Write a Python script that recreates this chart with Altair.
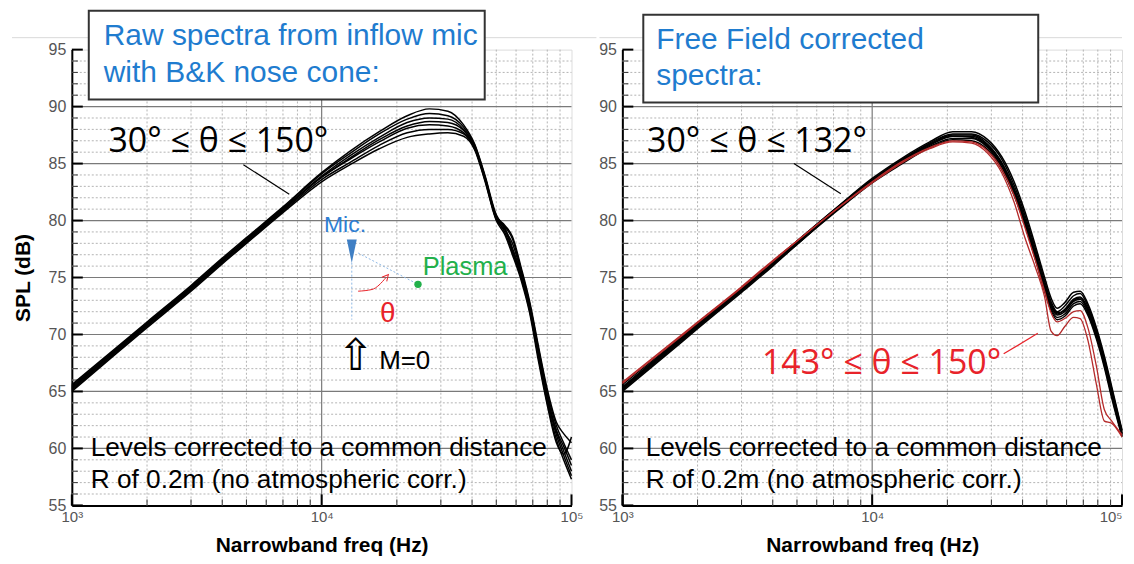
import altair as alt
import pandas as pd

# ---------------- data ----------------
FREQ_LEFT = [1000, 1500, 2000, 3000, 4000, 5000, 7000, 10000, 13000, 17000, 22000, 27000,
             32000, 37000, 41000, 45000, 50000, 54000, 58000, 63000, 68000, 74000, 80000,
             87000, 93000, 100000]
LEFT_L1 = [65.6, 68.8, 71.1, 74.3, 76.7, 78.5, 81.2, 84.2, 86.1, 87.8, 89.2, 89.8, 89.6, 88.4, 86.7, 84.0, 80.5, 79.4, 77.6, 75.3, 72.6, 68.4, 64.6, 61.5, 59.8, 58.0]
LEFT_L2 = [65.5, 68.7, 71.0, 74.2, 76.6, 78.4, 81.1, 84.1, 85.9, 87.6, 88.9, 89.4, 89.2, 88.2, 86.6, 83.9, 80.4, 79.6, 78.6, 75.8, 72.9, 68.8, 65.2, 62.3, 61.3, 60.5]
LEFT_L3 = [65.3, 68.6, 70.9, 74.1, 76.5, 78.3, 81.0, 83.9, 85.7, 87.3, 88.6, 89.0, 88.9, 88.0, 86.5, 83.8, 80.3, 79.3, 77.4, 75.1, 72.4, 68.1, 64.3, 61.2, 59.4, 57.6]
LEFT_L4 = [65.2, 68.5, 70.8, 74.0, 76.4, 78.2, 80.9, 83.8, 85.5, 87.1, 88.3, 88.7, 88.6, 87.9, 86.4, 83.8, 80.2, 79.5, 78.4, 75.6, 72.7, 68.6, 64.9, 62.0, 60.5, 59.0]
LEFT_L5 = [65.4, 68.6, 70.9, 74.1, 76.5, 78.3, 81.0, 83.8, 85.4, 86.9, 88.1, 88.4, 88.3, 87.7, 86.3, 83.7, 80.2, 79.0, 77.2, 74.9, 72.1, 67.8, 64.0, 60.8, 59.0, 57.3]
LEFT_L6 = [65.1, 68.4, 70.7, 73.9, 76.3, 78.1, 80.8, 83.6, 85.1, 86.6, 87.7, 88.0, 88.0, 87.6, 86.3, 83.6, 80.1, 79.2, 78.0, 75.4, 72.5, 68.3, 64.5, 61.6, 60.2, 58.5]
LEFT_L7 = [65.0, 68.3, 70.6, 73.8, 76.2, 78.0, 80.7, 83.4, 84.9, 86.3, 87.3, 87.6, 87.7, 87.4, 86.2, 83.5, 80.0, 78.8, 77.0, 74.7, 71.9, 67.5, 63.8, 60.5, 59.5, 61.0]
LEFT_BLACK = [LEFT_L1, LEFT_L2, LEFT_L3, LEFT_L4, LEFT_L5, LEFT_L6, LEFT_L7]

FREQ_RIGHT = [1000, 1500, 2000, 3000, 4000, 5000, 7000, 10000, 13000, 17000, 21000, 25000,
              29000, 33000, 37000, 41000, 45000, 49000, 52000, 55000, 59000, 64000, 68000,
              73000, 79000, 85000, 91000, 100000]
RIGHT_B1 = [65.6, 68.7, 71.0, 74.1, 76.4, 78.2, 80.9, 83.7, 85.4, 86.9, 87.8, 87.8, 87.1, 85.6, 83.4, 80.7, 77.8, 75.0, 73.2, 72.3, 72.8, 73.7, 73.8, 72.7, 70.6, 68.1, 65.4, 61.6]
RIGHT_B2 = [65.4, 68.6, 70.9, 74.0, 76.4, 78.2, 80.9, 83.6, 85.3, 86.8, 87.6, 87.6, 86.9, 85.4, 83.1, 80.4, 77.5, 74.7, 72.9, 72.0, 72.5, 73.4, 73.6, 72.5, 70.4, 67.9, 65.2, 61.5]
RIGHT_B3 = [65.3, 68.5, 70.8, 74.0, 76.3, 78.1, 80.8, 83.5, 85.2, 86.7, 87.5, 87.5, 86.7, 85.1, 82.8, 80.1, 77.2, 74.4, 72.6, 71.8, 72.2, 73.1, 73.3, 72.3, 70.2, 67.7, 65.0, 61.3]
RIGHT_B4 = [65.2, 68.4, 70.7, 73.9, 76.2, 78.0, 80.7, 83.4, 85.1, 86.6, 87.4, 87.3, 86.5, 84.9, 82.6, 79.9, 77.0, 74.2, 72.5, 71.7, 72.0, 72.9, 73.1, 72.1, 70.0, 67.5, 64.8, 61.2]
RIGHT_B5 = [65.1, 68.3, 70.6, 73.8, 76.1, 77.9, 80.7, 83.4, 85.0, 86.5, 87.2, 87.2, 86.4, 84.7, 82.4, 79.7, 76.8, 74.0, 72.3, 71.5, 71.8, 72.7, 72.9, 71.9, 69.8, 67.3, 64.6, 61.1]
RIGHT_B6 = [65.0, 68.2, 70.5, 73.7, 76.0, 77.9, 80.6, 83.3, 84.9, 86.4, 87.1, 87.0, 86.2, 84.5, 82.2, 79.5, 76.6, 73.8, 72.1, 71.3, 71.6, 72.5, 72.7, 71.7, 69.6, 67.1, 64.4, 61.0]
RIGHT_B7 = [65.3, 68.5, 70.8, 74.0, 76.3, 78.1, 80.8, 83.5, 85.2, 86.7, 87.4, 87.4, 86.6, 85.0, 82.7, 80.0, 77.1, 74.3, 72.7, 71.9, 72.1, 73.0, 73.2, 72.2, 70.1, 67.7, 65.0, 61.3]
RIGHT_BLACK = [RIGHT_B1, RIGHT_B2, RIGHT_B3, RIGHT_B4, RIGHT_B5, RIGHT_B6, RIGHT_B7]
RIGHT_R1 = [65.8, 68.9, 71.1, 74.2, 76.5, 78.2, 80.8, 83.3, 85.0, 86.3, 86.9, 86.8, 85.9, 84.2, 81.6, 78.4, 75.9, 73.3, 70.3, 69.9, 70.7, 71.5, 71.4, 69.5, 65.6, 62.4, 62.2, 61.0]
RIGHT_R2 = [65.7, 68.8, 71.0, 74.1, 76.4, 78.2, 80.8, 83.4, 85.1, 86.4, 87.0, 86.9, 86.1, 84.5, 82.2, 79.3, 76.5, 73.8, 71.9, 71.1, 71.4, 72.0, 72.1, 70.6, 67.2, 63.4, 62.4, 61.2]
RIGHT_RED = [RIGHT_R1, RIGHT_R2]

# axes / grid values
X_LABELS = [1000, 10000, 100000]
X_MAJOR = [10000]
X_MINOR = [2000, 3000, 4000, 5000, 6000, 7000, 8000, 9000,
           20000, 30000, 40000, 50000, 60000, 70000, 80000, 90000]
Y_LABELS = [55, 60, 65, 70, 75, 80, 85, 90, 95]
Y_MAJOR = [60, 65, 70, 75, 80, 85, 90]
Y_MINOR = [56, 57, 58, 59, 61, 62, 63, 64, 66, 67, 68, 69, 71, 72, 73, 74, 76, 77, 78, 79,
           81, 82, 83, 84, 86, 87, 88, 89, 91, 92, 93, 94]

# annotation texts
LEFT_BOX_TEXT = ["Raw spectra from inflow mic", "with B&K nose cone:"]
RIGHT_BOX_TEXT = ["Free Field corrected", "spectra:"]
NOTE_TEXT = ["Levels corrected to a common distance", "R of 0.2m (no atmospheric corr.)"]
LEFT_RANGE = "30° ≤ θ ≤ 150°"
RIGHT_RANGE = "30° ≤ θ ≤ 132°"
RED_RANGE = "143° ≤ θ ≤ 150°"

W, H = 501, 457
BLUE = "#1f7ccf"
RED = "#e8232a"
GREEN = "#22b04b"
ANN_FONT = "Open Sans"

XS = alt.Scale(type="log", domain=[1000, 100000], nice=False)
YS = alt.Scale(domain=[55, 95], nice=False, zero=False)


def df(**cols):
    return pd.DataFrame(cols)


def series_frame(freqs, lines, color, prefix):
    rows = []
    for i, vals in enumerate(lines):
        for f, v in zip(freqs, vals):
            rows.append({"f": f, "db": v, "s": f"{prefix}{i}", "c": color})
    return pd.DataFrame(rows)


def make_axes(show_y_title):
    xkw = dict(values=X_LABELS,
               labelExpr="datum.value == 1000 ? '10³' : datum.value == 10000 ? '10⁴' : '10⁵'",
               title="Narrowband freq (Hz)", titleFontSize=21, titleFontWeight="bold",
               titleColor="black", titleFont="Liberation Sans", titlePadding=10,
               labelFontSize=15, labelColor="#555", labelFont="Liberation Sans",
               labelPadding=4, labelFlush=False, labelOverlap=False,
               ticks=False, grid=False, domainColor="black", domainWidth=2)
    if not show_y_title:
        # keep the last label inside the page on the right-hand panel
        xkw["labelAlign"] = {"expr": "datum.value >= 100000 ? 'right' : 'center'"}
    xaxis = alt.Axis(**xkw)
    if show_y_title:
        yaxis = alt.Axis(values=Y_LABELS, title="SPL (dB)",
                         titleFontSize=21, titleFontWeight="bold", titleColor="black",
                         titleFont="Liberation Sans", titlePadding=15,
                         labelFontSize=16, labelColor="#555", labelFont="Liberation Sans",
                         labelPadding=6, labelFlush=False, labelOverlap=False,
                         ticks=False, grid=False, domainColor="black", domainWidth=2)
    else:
        yaxis = alt.Axis(values=Y_LABELS, title="",
                         labelFontSize=16, labelColor="#555", labelFont="Liberation Sans",
                         labelPadding=6, labelFlush=False, labelOverlap=False,
                         ticks=False, grid=False, domainColor="black", domainWidth=2)
    return xaxis, yaxis


def build_panel(show_y_title, series_layers, extra, box, top_rule):
    xaxis, yaxis = make_axes(show_y_title)

    def X():
        return alt.X("f:Q", scale=XS, axis=xaxis, title="Narrowband freq (Hz)")

    def Y():
        return alt.Y("db:Q", scale=YS, axis=yaxis, title="SPL (dB)" if show_y_title else "")

    one = df(k=[0])
    layers = []
    # faint slide separator line at the top
    layers.append(alt.Chart(one).mark_rule(color="#d9d9d9", strokeWidth=1).encode(
        x=alt.value(top_rule[0]), x2=alt.value(top_rule[1]), y=alt.value(-12)))
    layers.append(alt.Chart(df(f=X_MINOR)).mark_rule(color="#b4b4b4", strokeWidth=1, strokeDash=[2, 2]).encode(
        x=X(), y=alt.value(0), y2=alt.value(H)))
    layers.append(alt.Chart(df(db=Y_MINOR)).mark_rule(color="#b4b4b4", strokeWidth=1, strokeDash=[2, 2]).encode(
        y=Y(), x=alt.value(0), x2=alt.value(W)))
    layers.append(alt.Chart(df(f=X_MAJOR)).mark_rule(color="#7a7a7a", strokeWidth=1.2).encode(
        x=X(), y=alt.value(0), y2=alt.value(H)))
    layers.append(alt.Chart(df(db=Y_MAJOR)).mark_rule(color="#7a7a7a", strokeWidth=1.2).encode(
        y=Y(), x=alt.value(0), x2=alt.value(W)))
    # inward ticks
    layers.append(alt.Chart(df(db=Y_MINOR)).mark_rule(color="#333", strokeWidth=1).encode(
        y=Y(), x=alt.value(0), x2=alt.value(6)))
    layers.append(alt.Chart(df(db=Y_LABELS)).mark_rule(color="black", strokeWidth=2).encode(
        y=Y(), x=alt.value(0), x2=alt.value(11)))
    layers.append(alt.Chart(df(f=X_MINOR)).mark_rule(color="#333", strokeWidth=1).encode(
        x=X(), y=alt.value(H), y2=alt.value(H - 6)))
    layers.append(alt.Chart(df(f=X_LABELS)).mark_rule(color="black", strokeWidth=2).encode(
        x=X(), y=alt.value(H), y2=alt.value(H - 11)))

    for data, color, width in series_layers:
        layers.append(alt.Chart(data).mark_line(interpolate="monotone", strokeWidth=width, color=color).encode(
            x=X(), y=Y(), detail="s:N"))

    for item in extra:
        kind = item[0]
        if kind == "text":
            _, f, db, text, color, size, font, align = item
            layers.append(alt.Chart(df(f=[f], db=[db], t=[text])).mark_text(
                color=color, fontSize=size, font=font, align=align, baseline="middle").encode(
                x=X(), y=Y(), text="t:N"))
        elif kind == "seg":
            _, fs, dbs, color, width, dash, interp = item
            kw = dict(color=color, strokeWidth=width, interpolate=interp)
            if dash:
                kw["strokeDash"] = dash
            layers.append(alt.Chart(df(f=fs, db=dbs)).mark_line(**kw).encode(x=X(), y=Y()))
        elif kind == "point":
            _, f, db, shape, size, color, filled, angle = item
            layers.append(alt.Chart(df(f=[f], db=[db])).mark_point(
                shape=shape, size=size, filled=filled, color=color, opacity=1, strokeWidth=1,
                angle=angle).encode(x=X(), y=Y()))

    x0, x1, y0, y1, lines, tx, tys = box
    layers.append(alt.Chart(one).mark_rect(fill="white", stroke="#333", strokeWidth=2).encode(
        x=alt.value(x0), x2=alt.value(x1), y=alt.value(y0), y2=alt.value(y1)))
    for line, yy in zip(lines, tys):
        layers.append(alt.Chart(one).mark_text(text=line, color=BLUE, fontSize=30, font="Liberation Sans",
                                               align="left", baseline="middle").encode(
            x=alt.value(tx), y=alt.value(yy)))
    return alt.layer(*layers).properties(width=W, height=H)


# ---------------- left panel ----------------
left_extra = [
    ("text", 3860, 86.9, LEFT_RANGE, "black", 34, ANN_FONT, "center"),
    ("seg", [4860, 7420], [84.9, 82.3], "black", 1.2, None, "linear"),
    ("text", 1190, 60.0, NOTE_TEXT[0], "black", 26.3, "Liberation Sans", "left"),
    ("text", 1190, 57.2, NOTE_TEXT[1], "black", 26.3, "Liberation Sans", "left"),
    ("text", 12400, 79.6, "Mic.", "#2f7fd3", 23, "Liberation Sans", "center"),
    ("point", 13200, 77.3, "M-0.42,-1L0.42,-1L0,1Z", 560, "#3f7fc4", True, 0),
    ("seg", [13200, 13200], [76.3, 71.3], "#8fb9e6", 1, [2, 2], "linear"),
    ("seg", [14000, 24300], [77.15, 74.4], "#8fb9e6", 1, [2, 2], "linear"),
    ("point", 24300, 74.4, "circle", 55, GREEN, True, 0),
    ("text", 37500, 75.9, "Plasma", GREEN, 25.5, "Liberation Sans", "center"),
    ("seg", [14000, 15900, 18100], [73.8, 73.95, 75.0], RED, 1, None, "monotone"),
    ("point", 18150, 75.05, "M-1,1L0,-1L1,1", 40, RED, False, 40),
    ("text", 18400, 71.8, "θ", RED, 28, "Liberation Sans", "center"),
    ("text", 13700, 68.0, "⇧", "black", 44, "DejaVu Sans", "center"),
    ("text", 21500, 67.7, "M=0", "black", 26, "Liberation Sans", "center"),
]
left = build_panel(
    True,
    [(series_frame(FREQ_LEFT, LEFT_BLACK, "black", "L"), "black", 1.5)],
    left_extra,
    (17, 414, -39, 50, LEFT_BOX_TEXT, 32, [-14, 23]),
    (-60, W + 25),
)

# ---------------- right panel ----------------
right_extra = [
    ("text", 3460, 86.9, RIGHT_RANGE, "black", 34, ANN_FONT, "center"),
    ("seg", [4860, 7490], [85.0, 82.35], "black", 1.2, None, "linear"),
    ("text", 10900, 67.4, RED_RANGE, RED, 34, ANN_FONT, "center"),
    ("seg", [33600, 46000], [68.3, 70.1], RED, 1.2, None, "linear"),
    ("text", 1240, 60.0, NOTE_TEXT[0], "black", 26.3, "Liberation Sans", "left"),
    ("text", 1240, 57.2, NOTE_TEXT[1], "black", 26.3, "Liberation Sans", "left"),
]
right = build_panel(
    False,
    [(series_frame(FREQ_RIGHT, RIGHT_BLACK, "black", "B"), "black", 1.5),
     (series_frame(FREQ_RIGHT, RIGHT_RED, "#b52a2a", "R"), "#b52a2a", 1.3)],
    right_extra,
    (21, 417, -35, 53, RIGHT_BOX_TEXT, 34, [-10, 26]),
    (-23, W),
)

chart = alt.hconcat(left, right, spacing=0).properties(
    padding={"left": 3, "top": 0, "right": 0, "bottom": 0}
).configure_view(stroke="#9a9a9a", strokeWidth=1).configure(font="Liberation Sans")

chart.save("out.html", embed_options={"renderer": "svg", "actions": False})
